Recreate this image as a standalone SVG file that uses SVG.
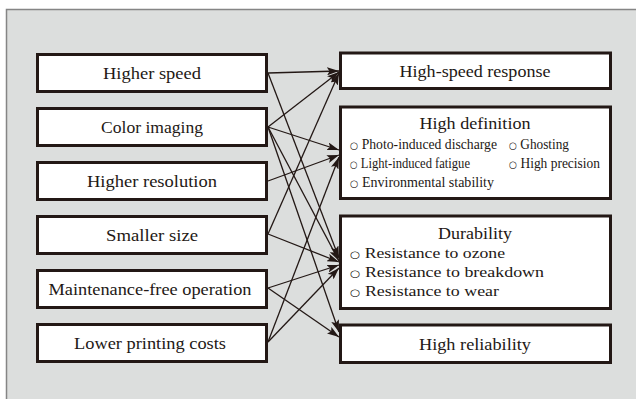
<svg xmlns="http://www.w3.org/2000/svg" width="636" height="399" viewBox="0 0 636 399">
  <defs>
    <marker id="arr" viewBox="0 0 12 8" refX="12" refY="4" markerWidth="12" markerHeight="8" markerUnits="userSpaceOnUse" orient="auto">
      <path d="M0,0 L12,4 L0,8 L2.5,4 z" fill="#231815"/>
    </marker>
  </defs>
  <style>
    .panel { fill: #dcdedd; stroke: #858585; stroke-width: 1.5; }
    .box { fill: #ffffff; stroke: #231815; stroke-width: 3; }
    .lbl { font-family: "Liberation Serif", "DejaVu Serif", serif; font-size: 17.5px; fill: #231815; text-anchor: middle; }
    .item { font-family: "Liberation Serif", "DejaVu Serif", serif; font-size: 14.5px; fill: #231815; }
    .item2 { font-family: "Liberation Serif", "DejaVu Serif", serif; font-size: 15px; fill: #231815; }
    .bul { font-family: "DejaVu Sans", sans-serif; font-size: 10px; }
    .conn line { stroke: #231815; stroke-width: 1.3; fill: none; marker-end: url(#arr); }
  </style>

  <rect class="panel" x="6.5" y="9.5" width="640" height="400"/>

  <g id="n-higher-speed">
    <rect class="box" x="37.5" y="54.5" width="229" height="37"/>
    <text class="lbl" x="152" y="79" textLength="98" lengthAdjust="spacingAndGlyphs">Higher speed</text>
  </g>
  <g id="n-color-imaging">
    <rect class="box" x="37.5" y="108.5" width="229" height="37"/>
    <text class="lbl" x="152" y="133" textLength="102" lengthAdjust="spacingAndGlyphs">Color imaging</text>
  </g>
  <g id="n-higher-resolution">
    <rect class="box" x="37.5" y="162.5" width="229" height="37"/>
    <text class="lbl" x="152" y="187" textLength="130" lengthAdjust="spacingAndGlyphs">Higher resolution</text>
  </g>
  <g id="n-smaller-size">
    <rect class="box" x="37.5" y="216.5" width="229" height="37"/>
    <text class="lbl" x="152" y="240.5" textLength="92" lengthAdjust="spacingAndGlyphs">Smaller size</text>
  </g>
  <g id="n-maintenance-free">
    <rect class="box" x="37.5" y="270.5" width="229" height="37"/>
    <text class="lbl" x="150" y="294.5" textLength="203" lengthAdjust="spacingAndGlyphs">Maintenance-free operation</text>
  </g>
  <g id="n-lower-costs">
    <rect class="box" x="37.5" y="324.5" width="229" height="37"/>
    <text class="lbl" x="150" y="348.5" textLength="152" lengthAdjust="spacingAndGlyphs">Lower printing costs</text>
  </g>

  <g id="n-high-speed-response">
    <rect class="box" x="340.5" y="53" width="270" height="35.5"/>
    <text class="lbl" x="475" y="76.5" textLength="151" lengthAdjust="spacingAndGlyphs">High-speed response</text>
  </g>
  <g id="n-high-definition">
    <rect class="box" x="340.5" y="107" width="270" height="91.5"/>
    <text class="lbl" x="475" y="128.5" textLength="111" lengthAdjust="spacingAndGlyphs">High definition</text>
    <text class="item" x="350" y="148.5" textLength="147" lengthAdjust="spacingAndGlyphs"><tspan class="bul">○</tspan> Photo-induced discharge</text>
    <text class="item" x="509" y="148.5" textLength="60" lengthAdjust="spacingAndGlyphs"><tspan class="bul">○</tspan> Ghosting</text>
    <text class="item" x="350" y="167.5" textLength="120" lengthAdjust="spacingAndGlyphs"><tspan class="bul">○</tspan> Light-induced fatigue</text>
    <text class="item" x="509" y="167.5" textLength="91" lengthAdjust="spacingAndGlyphs"><tspan class="bul">○</tspan> High precision</text>
    <text class="item" x="350" y="186.5" textLength="144" lengthAdjust="spacingAndGlyphs"><tspan class="bul">○</tspan> Environmental stability</text>
  </g>
  <g id="n-durability">
    <rect class="box" x="340.5" y="216" width="270" height="92.5"/>
    <text class="lbl" x="475" y="238.5" textLength="74" lengthAdjust="spacingAndGlyphs">Durability</text>
    <text class="item2" x="350" y="257.5" textLength="155" lengthAdjust="spacingAndGlyphs"><tspan class="bul">○</tspan> Resistance to ozone</text>
    <text class="item2" x="350" y="276.5" textLength="194" lengthAdjust="spacingAndGlyphs"><tspan class="bul">○</tspan> Resistance to breakdown</text>
    <text class="item2" x="350" y="295.5" textLength="149" lengthAdjust="spacingAndGlyphs"><tspan class="bul">○</tspan> Resistance to wear</text>
  </g>
  <g id="n-high-reliability">
    <rect class="box" x="340.5" y="325" width="270" height="37.5"/>
    <text class="lbl" x="475" y="350" textLength="112" lengthAdjust="spacingAndGlyphs">High reliability</text>
  </g>

  <g id="connectors" class="conn">
    <line x1="268" y1="73" x2="339" y2="71"/>
    <line x1="268" y1="73" x2="339" y2="258"/>
    <line x1="268" y1="127" x2="339" y2="72"/>
    <line x1="268" y1="127" x2="339" y2="150"/>
    <line x1="268" y1="127" x2="339" y2="261"/>
    <line x1="268" y1="127" x2="339" y2="332"/>
    <line x1="268" y1="181" x2="339" y2="155"/>
    <line x1="268" y1="234" x2="339" y2="73"/>
    <line x1="268" y1="234" x2="339" y2="262"/>
    <line x1="268" y1="288" x2="339" y2="265"/>
    <line x1="268" y1="288" x2="339" y2="337"/>
    <line x1="268" y1="342" x2="339" y2="157"/>
    <line x1="268" y1="342" x2="339" y2="268"/>
  </g>
</svg>
